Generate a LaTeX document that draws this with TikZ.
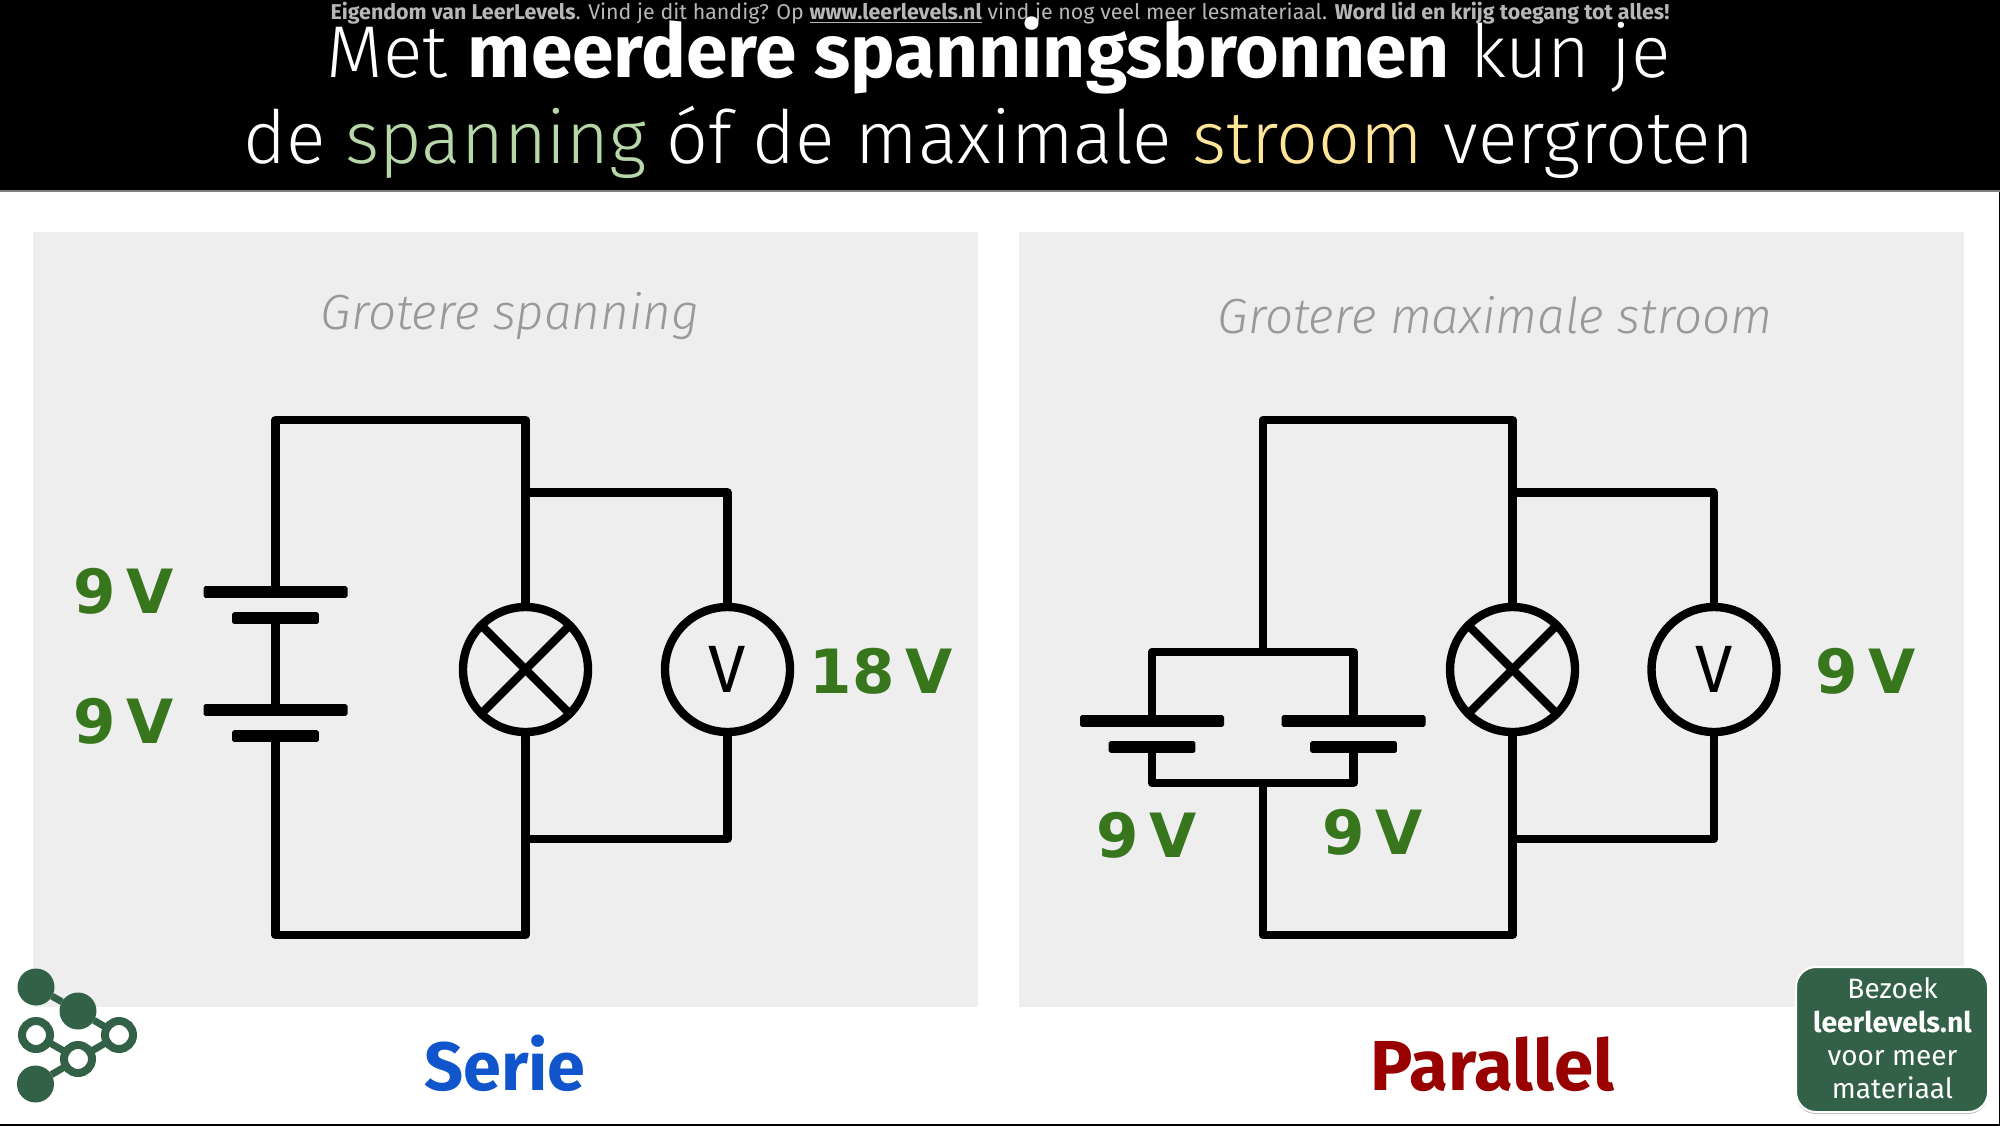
\documentclass[tikz,border=0pt]{standalone}
\usepackage{fontspec}
\setmainfont{Fira Sans}
\newfontfamily\lightfont{Fira Sans Light}
\newfontfamily\voltfont[WordSpace=0.5]{DejaVu Sans}
\definecolor{panelgrey}{HTML}{EEEEEE}
\definecolor{voltgreen}{HTML}{38761D}
\definecolor{llgreen}{HTML}{336148}
\definecolor{capgrey}{HTML}{999999}
\definecolor{smallgrey}{HTML}{B7B7B7}
\definecolor{seriesblue}{HTML}{1155CC}
\definecolor{parallelred}{HTML}{990000}
\definecolor{spanninggreen}{HTML}{B6D7A8}
\definecolor{stroomyellow}{HTML}{FFE599}
\begin{document}
\begin{tikzpicture}[x=0.5pt, y=-0.5pt,
  wire/.style = {line width=4.2pt, line join=round},
  meter/.style = {shape=circle, draw, line width=4.2pt, fill=panelgrey,
    minimum size=62.5pt, inner sep=0pt, outer sep=0pt},
  longplate/.style = {shape=rectangle, rounded corners=0.8pt, fill=black,
    minimum width=72pt, minimum height=5.8pt, inner sep=0pt, outer sep=0pt},
  shortplate/.style = {longplate, minimum width=43.3pt},
  volt/.style = {anchor=base, inner sep=0pt, text=voltgreen,
    font=\voltfont\bfseries\fontsize{30.5}{36}\selectfont},
  headline/.style = {anchor=base, inner sep=0pt, text=white,
    font=\lightfont\fontsize{36.7}{44}\selectfont},
  caption/.style = {anchor=base, inner sep=0pt, text=capgrey,
    font=\lightfont\itshape\fontsize{24.7}{29}\selectfont},
  kind/.style = {anchor=base, inner sep=0pt, font=\bfseries},
  visitline/.style = {anchor=base, inner sep=0pt, text=white,
    font=\fontsize{14}{17}\selectfont},
  hub/.style = {shape=circle, fill=llgreen, minimum size=18.5pt,
    inner sep=0pt, outer sep=0pt},
  ring/.style = {shape=circle, draw=llgreen, fill=white, line width=4pt,
    minimum size=14pt, inner sep=0pt, outer sep=0pt}]
    \useasboundingbox (0,0) rectangle (2000,1125);
    \fill[white] (0,0) rectangle (2000,1125);
    \fill[black] (0,0) rectangle (2000,191);
    \draw[black, line width=1pt] (2000,191) -- (2000,1125) -- (0,1125);
    \draw[gray, line width=0.6pt] (0,191) -- (2000,191);
    \fill[panelgrey] (33,232) rectangle (978,1007);
    \fill[panelgrey] (1019,232) rectangle (1964,1007);

    \node[anchor=base, inner sep=0pt, text=smallgrey,
      font=\fontsize{10.7}{13}\selectfont] (notice) at (1000,19)
      {\textbf{Eigendom van LeerLevels}. Vind je dit handig? Op \textbf{\underline{www.leerlevels.nl}} vind je nog veel meer lesmateriaal. \textbf{Word lid en krijg toegang tot alles!}};
    \node[headline] (title1) at (998.5,77)
      {Met {\normalfont\bfseries\fontsize{37.4}{44}\selectfont meerdere spanningsbronnen} kun je};
    \node[headline] (title2) at (998.5,163)
      {de \textcolor{spanninggreen}{spanning} óf de maximale \textcolor{stroomyellow}{stroom} vergroten};

    \node[caption] (capleft) at (510,329) {Grotere spanning};
    \node[caption] (capright) at (1495,333) {Grotere maximale stroom};
    \node[kind, text=seriesblue, font=\bfseries\fontsize{34.2}{40}\selectfont] (serie) at (505,1090) {Serie};
    \node[kind, text=parallelred, font=\bfseries\fontsize{35.4}{42}\selectfont] (parallel) at (1492.5,1090) {Parallel};

    \node[longplate] (la1) at (275.5,592) {};
    \node[shortplate] (la2) at (275.5,618) {};
    \node[longplate] (lb1) at (275.5,710) {};
    \node[shortplate] (lb2) at (275.5,736) {};
    \node[meter] (lbulb) at (525.5,669.5) {};
    \node[meter, font=\fontsize{33.5}{40}\selectfont] (lmeter) at (727.5,669.5) {V};
    \coordinate (ltop) at (525.5,420);
    \coordinate (lbot) at (525.5,935);
    \coordinate (lmtop) at (525.5,492.5);
    \coordinate (lmbot) at (525.5,839);
    \draw[wire] (la1.north) |- (ltop) -- (lbulb.north);
    \draw[wire] (la2.south) -- (lb1.north);
    \draw[wire] (lb2.south) |- (lbot) -- (lbulb.south);
    \draw[wire] (lmtop) -| (lmeter.north);
    \draw[wire] (lmbot) -| (lmeter.south);
    \draw[wire] (lbulb.45) -- (lbulb.225);
    \draw[wire] (lbulb.135) -- (lbulb.315);
    \node[volt] (lv1) at (124,613.5) {9 V};
    \node[volt] (lv2) at (124,743) {9 V};
    \node[volt] (lv3) at (881,693) {18 V};

    \node[longplate] (ra1) at (1152,721) {};
    \node[shortplate] (ra2) at (1152,747) {};
    \node[longplate] (rb1) at (1353.5,721) {};
    \node[shortplate] (rb2) at (1353.5,747) {};
    \node[meter] (rbulb) at (1512.5,669.5) {};
    \node[meter, font=\fontsize{33.5}{40}\selectfont] (rmeter) at (1714,669.5) {V};
    \coordinate (rjoin) at (1263,652);
    \coordinate (rsplit) at (1263,783);
    \coordinate (rtop) at (1512.5,420);
    \coordinate (rbot) at (1512.5,935);
    \coordinate (rmtop) at (1512.5,492.5);
    \coordinate (rmbot) at (1512.5,839);
    \draw[wire] (ra1.north) |- (rjoin) -| (rb1.north);
    \draw[wire] (ra2.south) |- (rsplit) -| (rb2.south);
    \draw[wire] (rjoin) |- (rtop) -- (rbulb.north);
    \draw[wire] (rsplit) |- (rbot) -- (rbulb.south);
    \draw[wire] (rmtop) -| (rmeter.north);
    \draw[wire] (rmbot) -| (rmeter.south);
    \draw[wire] (rbulb.45) -- (rbulb.225);
    \draw[wire] (rbulb.135) -- (rbulb.315);
    \node[volt] (rv1) at (1147,857) {9 V};
    \node[volt] (rv2) at (1373,854) {9 V};
    \node[volt] (rv3) at (1866,693) {9 V};

    \node[hub] (logob) at (78,1011) {};
    \node[hub] (logoa) at (36,987) {};
    \node[hub] (logof) at (35.5,1084) {};
    \coordinate (logoc) at (36,1035);
    \coordinate (logod) at (119,1035);
    \coordinate (logoe) at (78,1059);
    \draw[llgreen, line width=3.5pt] (logoa) -- (logob);
    \draw[llgreen, line width=3.5pt] (logob) -- (logod) -- (logoe) -- (logoc);
    \draw[llgreen, line width=3.5pt] (logoe) -- (logof);
    \node[ring] (ringc) at (logoc) {};
    \node[ring] (ringd) at (logod) {};
    \node[ring] (ringe) at (logoe) {};

    \fill[gray!50, rounded corners=10pt] (1796,969) rectangle (1988,1114);
    \node[shape=rectangle, rounded corners=10pt, draw=white, line width=1pt, fill=llgreen,
      minimum width=96pt, minimum height=72.5pt, inner sep=0pt] (visit) at (1892,1039.5) {};
    \node[visitline] (visit1) at (1892.5,998) {Bezoek};
    \node[visitline, font=\bfseries\fontsize{14.2}{17}\selectfont] (visit2) at (1892.5,1032) {leerlevels.nl};
    \node[visitline] (visit3) at (1892.5,1065) {voor meer};
    \node[visitline] (visit4) at (1892.5,1098) {materiaal};
\end{tikzpicture}
\end{document}
